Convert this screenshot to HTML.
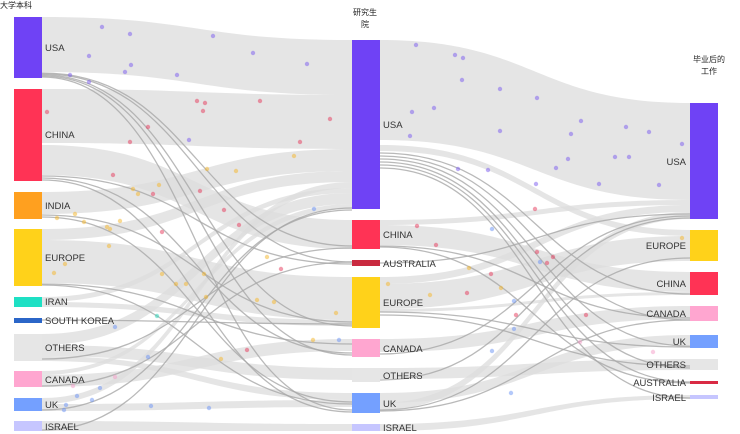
<!DOCTYPE html>
<html><head><meta charset="utf-8"><style>
body{margin:0;background:#fff;width:740px;height:434px;overflow:hidden}
svg{display:block}
text{font-family:"Liberation Sans","Noto Sans CJK SC",sans-serif;font-size:9.5px;fill:#333}
.t{font-size:8px;fill:#222}
.b{fill:#dcdcdc;opacity:.75}
.l{fill:none;stroke:#a8a8a8;stroke-width:1.3;opacity:.8}
</style></head><body>
<svg width="740" height="434" viewBox="0 0 740 434">
<g>
<path class="b" d="M42 17C197 17 197 40 352 40L352 95C197 95 197 72 42 72Z"/>
<path class="b" d="M42 89C197 89 197 95 352 95L352 149C197 149 197 143 42 143Z"/>
<path class="b" d="M42 145C197 145 197 220 352 220L352 249C197 249 197 175 42 175Z"/>
<path class="b" d="M42 192C197 192 197 149 352 149L352 171C197 171 197 214 42 214Z"/>
<path class="b" d="M42 229C197 229 197 171 352 171L352 182C197 182 197 240 42 240Z"/>
<path class="b" d="M42 240C197 240 197 277 352 277L352 320C197 320 197 283 42 283Z"/>
<path class="b" d="M42 398C197 398 197 182 352 182L352 188C197 188 197 404 42 404Z"/>
<path class="b" d="M42 297C197 297 197 188 352 188L352 193C197 193 197 302 42 302Z"/>
<path class="b" d="M42 334C197 334 197 193 352 193L352 204C197 204 197 345 42 345Z"/>
<path class="b" d="M42 371C197 371 197 204 352 204L352 209C197 209 197 375 42 375Z"/>
<path class="b" d="M42 345C197 345 197 368 352 368L352 380C197 380 197 356 42 356Z"/>
<path class="b" d="M42 375C197 375 197 339 352 339L352 351C197 351 197 387 42 387Z"/>
<path class="b" d="M42 404C197 404 197 400 352 400L352 407C197 407 197 411 42 411Z"/>
<path class="b" d="M42 421C197 421 197 424 352 424L352 431C197 431 197 431 42 431Z"/>
<path class="b" d="M42 356C197 356 197 393 352 393L352 400C197 400 197 361 42 361Z"/>
<path class="b" d="M42 302C197 302 197 320 352 320L352 326C197 326 197 307 42 307Z"/>
<path class="l" d="M42 73C197 73 197 246 352 246"/>
<path class="l" d="M42 74C197 74 197 262 352 262"/>
<path class="l" d="M42 75C197 75 197 326 352 326"/>
<path class="l" d="M42 76C197 76 197 355 352 355"/>
<path class="l" d="M42 77C197 77 197 410 352 410"/>
<path class="l" d="M42 176C197 176 197 264 352 264"/>
<path class="l" d="M42 178C197 178 197 353 352 353"/>
<path class="l" d="M42 180C197 180 197 412 352 412"/>
<path class="l" d="M42 215C197 215 197 322 352 322"/>
<path class="l" d="M42 217C197 217 197 402 352 402"/>
<path class="l" d="M42 284C197 284 197 344 352 344"/>
<path class="l" d="M42 285C197 285 197 404 352 404"/>
<path class="l" d="M42 320C197 320 197 324 352 324"/>
<path class="l" d="M42 359C197 359 197 248 352 248"/>
<path class="l" d="M42 386C197 386 197 262 352 262"/>
<path class="l" d="M42 410C197 410 197 210 352 210"/>
<path class="l" d="M42 430C197 430 197 208 352 208"/>
<path class="b" d="M380 40C535 40 535 103 690 103L690 200C535 200 535 140 380 140Z"/>
<path class="b" d="M380 220C535 220 535 200 690 200L690 205C535 205 535 225 380 225Z"/>
<path class="b" d="M380 225C535 225 535 272 690 272L690 292C535 292 535 245 380 245Z"/>
<path class="b" d="M380 277C535 277 535 205 690 205L690 212C535 212 535 284 380 284Z"/>
<path class="b" d="M380 284C535 284 535 236 690 236L690 261C535 261 535 309 380 309Z"/>
<path class="b" d="M380 339C535 339 535 306 690 306L690 319C535 319 535 352 380 352Z"/>
<path class="b" d="M380 368C535 368 535 359 690 359L690 370C535 370 535 379 380 379Z"/>
<path class="b" d="M380 393C535 393 535 335 690 335L690 345C535 345 535 403 380 403Z"/>
<path class="b" d="M380 403C535 403 535 212 690 212L690 219C535 219 535 410 380 410Z"/>
<path class="b" d="M380 424C535 424 535 395 690 395L690 399C535 399 535 431 380 431Z"/>
<path class="b" d="M380 145C535 145 535 230 690 230L690 236C535 236 535 151 380 151Z"/>
<path class="b" d="M380 309C535 309 535 292 690 292L690 295C535 295 535 312 380 312Z"/>
<path class="l" d="M380 153C535 153 535 294 690 294"/>
<path class="l" d="M380 156C535 156 535 320 690 320"/>
<path class="l" d="M380 159C535 159 535 346 690 346"/>
<path class="l" d="M380 162C535 162 535 368 690 368"/>
<path class="l" d="M380 165C535 165 535 382 690 382"/>
<path class="l" d="M380 168C535 168 535 398 690 398"/>
<path class="l" d="M380 246C535 246 535 318 690 318"/>
<path class="l" d="M380 247C535 247 535 383 690 383"/>
<path class="l" d="M380 263C535 263 535 214 690 214"/>
<path class="l" d="M380 312C535 312 535 347 690 347"/>
<path class="l" d="M380 315C535 315 535 366 690 366"/>
<path class="l" d="M380 354C535 354 535 216 690 216"/>
<path class="l" d="M380 380C535 380 535 218 690 218"/>
<path class="l" d="M380 410C535 410 535 258 690 258"/>
<path class="l" d="M380 411C535 411 535 320 690 320"/>
</g>
<g opacity=".5">
<g fill="#7b5cf0"><circle cx="102" cy="27" r="2.2"/><circle cx="130" cy="34" r="2.2"/><circle cx="213" cy="36" r="2.2"/><circle cx="89" cy="56" r="2.2"/><circle cx="131" cy="65" r="2.2"/><circle cx="125" cy="72" r="2.2"/><circle cx="177" cy="75" r="2.2"/><circle cx="253" cy="53" r="2.2"/><circle cx="307" cy="64" r="2.2"/><circle cx="70" cy="75" r="2.2"/><circle cx="89" cy="82" r="2.2"/><circle cx="189" cy="140" r="2.2"/><circle cx="416" cy="45" r="2.2"/><circle cx="455" cy="55" r="2.2"/><circle cx="463" cy="58" r="2.2"/><circle cx="462" cy="80" r="2.2"/><circle cx="500" cy="89" r="2.2"/><circle cx="537" cy="98" r="2.2"/><circle cx="412" cy="112" r="2.2"/><circle cx="434" cy="108" r="2.2"/><circle cx="500" cy="131" r="2.2"/><circle cx="581" cy="121" r="2.2"/><circle cx="571" cy="134" r="2.2"/><circle cx="626" cy="127" r="2.2"/><circle cx="649" cy="132" r="2.2"/><circle cx="682" cy="144" r="2.2"/><circle cx="568" cy="159" r="2.2"/><circle cx="615" cy="157" r="2.2"/><circle cx="629" cy="157" r="2.2"/><circle cx="556" cy="168" r="2.2"/><circle cx="599" cy="184" r="2.2"/><circle cx="659" cy="185" r="2.2"/><circle cx="458" cy="169" r="2.2"/><circle cx="488" cy="170" r="2.2"/><circle cx="536" cy="184" r="2.2"/><circle cx="410" cy="136" r="2.2"/></g>
<g fill="#e63a5c"><circle cx="47" cy="112" r="2.2"/><circle cx="197" cy="101" r="2.2"/><circle cx="205" cy="103" r="2.2"/><circle cx="203" cy="111" r="2.2"/><circle cx="260" cy="101" r="2.2"/><circle cx="148" cy="127" r="2.2"/><circle cx="130" cy="142" r="2.2"/><circle cx="330" cy="119" r="2.2"/><circle cx="300" cy="142" r="2.2"/><circle cx="113" cy="175" r="2.2"/><circle cx="153" cy="194" r="2.2"/><circle cx="200" cy="191" r="2.2"/><circle cx="224" cy="210" r="2.2"/><circle cx="239" cy="225" r="2.2"/><circle cx="162" cy="232" r="2.2"/><circle cx="281" cy="269" r="2.2"/><circle cx="417" cy="226" r="2.2"/><circle cx="436" cy="245" r="2.2"/><circle cx="535" cy="209" r="2.2"/><circle cx="537" cy="252" r="2.2"/><circle cx="553" cy="257" r="2.2"/><circle cx="547" cy="263" r="2.2"/><circle cx="491" cy="274" r="2.2"/><circle cx="516" cy="315" r="2.2"/><circle cx="586" cy="315" r="2.2"/><circle cx="467" cy="293" r="2.2"/><circle cx="247" cy="350" r="2.2"/></g>
<g fill="#f5b62a"><circle cx="294" cy="156" r="2.2"/><circle cx="207" cy="169" r="2.2"/><circle cx="236" cy="171" r="2.2"/><circle cx="133" cy="189" r="2.2"/><circle cx="159" cy="185" r="2.2"/><circle cx="138" cy="194" r="2.2"/><circle cx="57" cy="218" r="2.2"/><circle cx="75" cy="214" r="2.2"/><circle cx="84" cy="222" r="2.2"/><circle cx="120" cy="221" r="2.2"/><circle cx="107" cy="227" r="2.2"/><circle cx="110" cy="229" r="2.2"/><circle cx="109" cy="246" r="2.2"/><circle cx="65" cy="264" r="2.2"/><circle cx="54" cy="273" r="2.2"/><circle cx="162" cy="274" r="2.2"/><circle cx="176" cy="284" r="2.2"/><circle cx="186" cy="284" r="2.2"/><circle cx="204" cy="274" r="2.2"/><circle cx="206" cy="297" r="2.2"/><circle cx="257" cy="300" r="2.2"/><circle cx="274" cy="302" r="2.2"/><circle cx="267" cy="257" r="2.2"/><circle cx="336" cy="313" r="2.2"/><circle cx="313" cy="340" r="2.2"/><circle cx="221" cy="359" r="2.2"/><circle cx="388" cy="284" r="2.2"/><circle cx="430" cy="295" r="2.2"/><circle cx="469" cy="268" r="2.2"/><circle cx="501" cy="288" r="2.2"/><circle cx="682" cy="238" r="2.2"/></g>
<g fill="#6a93f5"><circle cx="115" cy="327" r="2.2"/><circle cx="148" cy="357" r="2.2"/><circle cx="100" cy="388" r="2.2"/><circle cx="77" cy="396" r="2.2"/><circle cx="92" cy="400" r="2.2"/><circle cx="66" cy="405" r="2.2"/><circle cx="64" cy="410" r="2.2"/><circle cx="151" cy="406" r="2.2"/><circle cx="209" cy="408" r="2.2"/><circle cx="314" cy="209" r="2.2"/><circle cx="339" cy="340" r="2.2"/><circle cx="492" cy="229" r="2.2"/><circle cx="514" cy="301" r="2.2"/><circle cx="514" cy="329" r="2.2"/><circle cx="492" cy="351" r="2.2"/><circle cx="511" cy="393" r="2.2"/><circle cx="540" cy="262" r="2.2"/></g>
<g fill="#f59cc8"><circle cx="115" cy="377" r="2.2"/><circle cx="73" cy="386" r="2.2"/><circle cx="580" cy="342" r="2.2"/><circle cx="653" cy="352" r="2.2"/></g>
<circle cx="157" cy="316" r="2.2" fill="#27d6b8"/>
</g>
<rect x="14" y="17" width="28" height="61" fill="#6f42f5"/>
<rect x="14" y="89" width="28" height="92" fill="#ff3355"/>
<rect x="14" y="192" width="28" height="27" fill="#ffa01f"/>
<rect x="14" y="229" width="28" height="57" fill="#ffd21a"/>
<rect x="14" y="297" width="28" height="10" fill="#1ee0c4"/>
<rect x="14" y="318" width="28" height="5" fill="#2b66c8"/>
<rect x="14" y="334" width="28" height="27" fill="#e6e6e6"/>
<rect x="14" y="371" width="28" height="16" fill="#ffa6d0"/>
<rect x="14" y="398" width="28" height="13" fill="#74a0ff"/>
<rect x="14" y="421" width="28" height="10" fill="#c6c6ff"/>
<rect x="352" y="40" width="28" height="169" fill="#6f42f5"/>
<rect x="352" y="220" width="28" height="29" fill="#ff3355"/>
<rect x="352" y="260" width="28" height="6" fill="#c92a40"/>
<rect x="352" y="277" width="28" height="51" fill="#ffd21a"/>
<rect x="352" y="339" width="28" height="18" fill="#ffa6d0"/>
<rect x="352" y="368" width="28" height="14" fill="#e6e6e6"/>
<rect x="352" y="393" width="28" height="20" fill="#74a0ff"/>
<rect x="352" y="424" width="28" height="7" fill="#c6c6ff"/>
<rect x="690" y="103" width="28" height="116" fill="#6f42f5"/>
<rect x="690" y="230" width="28" height="31" fill="#ffd21a"/>
<rect x="690" y="272" width="28" height="23" fill="#ff3355"/>
<rect x="690" y="306" width="28" height="15" fill="#ffa6d0"/>
<rect x="690" y="335" width="28" height="13" fill="#74a0ff"/>
<rect x="690" y="359" width="28" height="11" fill="#e6e6e6"/>
<rect x="690" y="381" width="28" height="3" fill="#d92a44"/>
<rect x="690" y="395" width="28" height="4" fill="#c6c6ff"/>
<text class="t" x="0" y="8">大学本科</text>
<text class="t" x="365" y="15" text-anchor="middle">研究生</text>
<text class="t" x="365" y="27" text-anchor="middle">院</text>
<text class="t" x="709" y="62" text-anchor="middle">毕业后的</text>
<text class="t" x="709" y="74" text-anchor="middle">工作</text>
<g>
<text x="45" y="51">USA</text>
<text x="45" y="138">CHINA</text>
<text x="45" y="209">INDIA</text>
<text x="45" y="261">EUROPE</text>
<text x="45" y="305">IRAN</text>
<text x="45" y="324">SOUTH KOREA</text>
<text x="45" y="351">OTHERS</text>
<text x="45" y="383">CANADA</text>
<text x="45" y="408">UK</text>
<text x="45" y="430">ISRAEL</text>
</g>
<g>
<text x="383" y="128">USA</text>
<text x="383" y="238">CHINA</text>
<text x="383" y="267">AUSTRALIA</text>
<text x="383" y="306">EUROPE</text>
<text x="383" y="352">CANADA</text>
<text x="383" y="379">OTHERS</text>
<text x="383" y="407">UK</text>
<text x="383" y="431">ISRAEL</text>
</g>
<g text-anchor="end">
<text x="686" y="165">USA</text>
<text x="686" y="249">EUROPE</text>
<text x="686" y="287">CHINA</text>
<text x="686" y="317">CANADA</text>
<text x="686" y="345">UK</text>
<text x="686" y="368">OTHERS</text>
<text x="686" y="386">AUSTRALIA</text>
<text x="686" y="401">ISRAEL</text>
</g>
</svg>
</body></html>
